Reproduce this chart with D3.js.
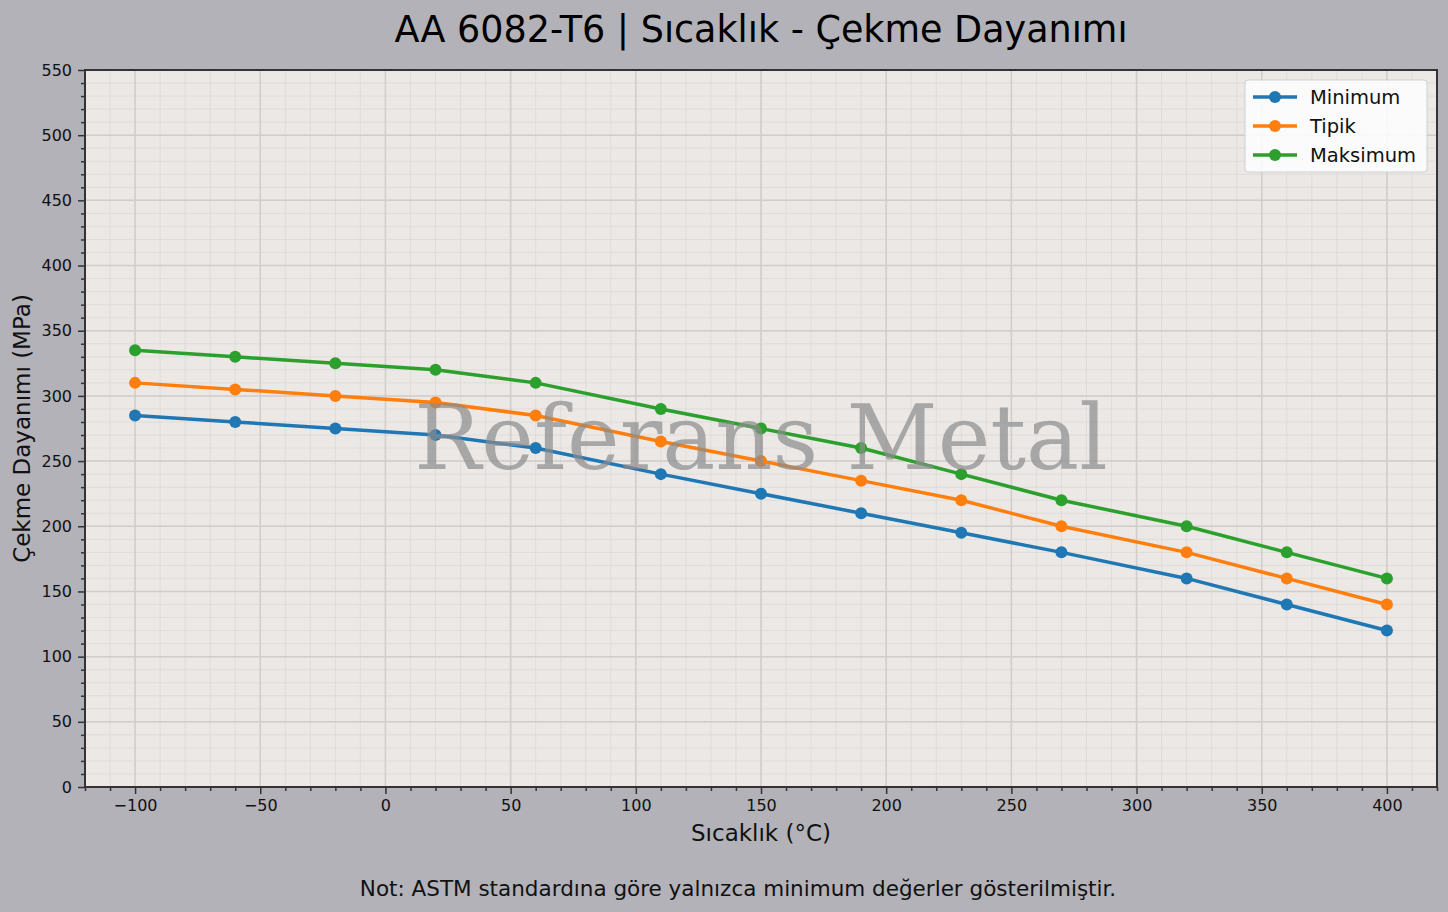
<!DOCTYPE html>
<html>
<head>
<meta charset="utf-8">
<script src="https://cdn.jsdelivr.net/npm/d3@7"></script>
<style>
  body { margin: 0; background: #b3b2b8; }
  svg { display: block; font-family: "DejaVu Sans", sans-serif; }
</style>
</head>
<body>
<div id="plot"></div>
<script>
// data
const temperatures = [-100, -60, -20, 20, 60, 110, 150, 190, 230, 270, 320, 360, 400];
const minimum = [285, 280, 275, 270, 260, 240, 225, 210, 195, 180, 160, 140, 120];
const tipik = [310, 305, 300, 295, 285, 265, 250, 235, 220, 200, 180, 160, 140];
const maksimum = [335, 330, 325, 320, 310, 290, 275, 260, 240, 220, 200, 180, 160];
const seriesNames = ["Minimum", "Tipik", "Maksimum"];
const seriesColors = ["#1f77b4", "#ff7f0e", "#2ca02c"];
const xTicks = [-100, -50, 0, 50, 100, 150, 200, 250, 300, 350, 400];
const yTicks = [0, 50, 100, 150, 200, 250, 300, 350, 400, 450, 500, 550];

const width = 1448, height = 912;
const margin = {top: 70, right: 11, bottom: 125, left: 85};
const iw = width - margin.left - margin.right,
      ih = height - margin.top - margin.bottom;

const svg = d3.select("#plot")
  .append("svg")
    .attr("width", width)
    .attr("height", height);

svg.append("rect").attr("width", width).attr("height", height).attr("fill", "#b3b2b8");

const g = svg.append("g")
  .attr("transform", `translate(${margin.left},${margin.top})`);

const x = d3.scaleLinear().domain([-120, 420]).range([0, iw]);
const y = d3.scaleLinear().domain([0, 550]).range([ih, 0]);

g.append("rect").attr("width", iw).attr("height", ih).attr("fill", "#ebe8e6");

// minor grid
const xMinor = d3.range(-120, 421, 10);
const yMinor = d3.range(0, 551, 10);
g.append("g").selectAll("line").data(xMinor).join("line")
  .attr("x1", d => x(d)).attr("x2", d => x(d)).attr("y1", 0).attr("y2", ih)
  .attr("stroke", "#dcd9d7").attr("stroke-width", 0.8);
g.append("g").selectAll("line").data(yMinor).join("line")
  .attr("y1", d => y(d)).attr("y2", d => y(d)).attr("x1", 0).attr("x2", iw)
  .attr("stroke", "#dcd9d7").attr("stroke-width", 0.8);

// major grid
g.append("g").selectAll("line").data(xTicks).join("line")
  .attr("x1", d => x(d)).attr("x2", d => x(d)).attr("y1", 0).attr("y2", ih)
  .attr("stroke", "#d0cdcb").attr("stroke-width", 1.5);
g.append("g").selectAll("line").data(yTicks).join("line")
  .attr("y1", d => y(d)).attr("y2", d => y(d)).attr("x1", 0).attr("x2", iw)
  .attr("stroke", "#d0cdcb").attr("stroke-width", 1.5);

// series
const series = [minimum, tipik, maksimum].map((vals, i) => ({
  name: seriesNames[i], color: seriesColors[i],
  points: temperatures.map((t, j) => [t, vals[j]])
}));

const line = d3.line().x(d => x(d[0])).y(d => y(d[1]));

series.forEach(s => {
  g.append("path").datum(s.points)
    .attr("d", line)
    .attr("fill", "none")
    .attr("stroke", s.color)
    .attr("stroke-width", 3.5)
    .attr("stroke-linejoin", "round");
  g.append("g").selectAll("circle").data(s.points).join("circle")
    .attr("cx", d => x(d[0])).attr("cy", d => y(d[1])).attr("r", 6)
    .attr("fill", s.color);
});

// watermark
g.append("text")
  .attr("x", x(150)).attr("y", y(250) + 8)
  .attr("text-anchor", "middle")
  .attr("font-family", "DejaVu Serif, serif")
  .attr("font-size", 89)
  .attr("fill", "#8c8c8c")
  .attr("fill-opacity", 0.7)
  .text("Referans Metal");

// axes
const xAxis = g.append("g").attr("transform", `translate(0,${ih})`)
  .call(d3.axisBottom(x).tickValues(xTicks).tickSize(7).tickPadding(6)
    .tickFormat(d => d < 0 ? "\u2212" + Math.abs(d) : d));
const xAxisMinor = g.append("g").attr("transform", `translate(0,${ih})`)
  .call(d3.axisBottom(x).tickValues(xMinor.filter(d => d % 50 !== 0)).tickSize(4).tickFormat(""));
const yAxis = g.append("g")
  .call(d3.axisLeft(y).tickValues(yTicks).tickSize(7).tickPadding(6));
const yAxisMinor = g.append("g")
  .call(d3.axisLeft(y).tickValues(yMinor.filter(d => d % 50 !== 0)).tickSize(4).tickFormat(""));

[xAxis, yAxis, xAxisMinor, yAxisMinor].forEach(a => {
  a.select(".domain").remove();
  a.selectAll("line").attr("stroke", "#333").attr("stroke-width", 1.5);
  a.selectAll("text").attr("font-size", 16).attr("fill", "#111")
    .attr("font-family", "DejaVu Sans, sans-serif");
});

// frame
g.append("rect").attr("width", iw).attr("height", ih)
  .attr("fill", "none").attr("stroke", "#333").attr("stroke-width", 2);

// legend
const lg = g.append("g").attr("transform", `translate(${iw - 192},10)`);
lg.append("rect").attr("width", 182).attr("height", 92).attr("rx", 3)
  .attr("fill", "#fdfdfd").attr("fill-opacity", 0.9)
  .attr("stroke", "#d0d0d0");
series.forEach((s, i) => {
  const row = lg.append("g").attr("transform", `translate(8,${17 + i * 29})`);
  row.append("line").attr("x1", 0).attr("x2", 44)
    .attr("stroke", s.color).attr("stroke-width", 3.5);
  row.append("circle").attr("cx", 22).attr("r", 6).attr("fill", s.color);
  row.append("text").attr("x", 57).attr("dy", "0.35em")
    .attr("font-size", 19.5).attr("fill", "#111").text(s.name);
});

// titles
svg.append("text").attr("x", 761).attr("y", 42)
  .attr("text-anchor", "middle").attr("font-size", 36.5).attr("fill", "#000")
  .text("AA 6082-T6 | Sıcaklık - Çekme Dayanımı");

svg.append("text").attr("x", margin.left + iw / 2).attr("y", 841)
  .attr("text-anchor", "middle").attr("font-size", 23).attr("fill", "#111")
  .text("Sıcaklık (°C)");

svg.append("text")
  .attr("transform", `translate(30,${margin.top + ih / 2}) rotate(-90)`)
  .attr("text-anchor", "middle").attr("font-size", 23).attr("fill", "#111")
  .text("Çekme Dayanımı (MPa)");

svg.append("text").attr("x", 738).attr("y", 896)
  .attr("text-anchor", "middle").attr("font-size", 21.5).attr("fill", "#111")
  .text("Not: ASTM standardına göre yalnızca minimum değerler gösterilmiştir.");
</script>
</body>
</html>
